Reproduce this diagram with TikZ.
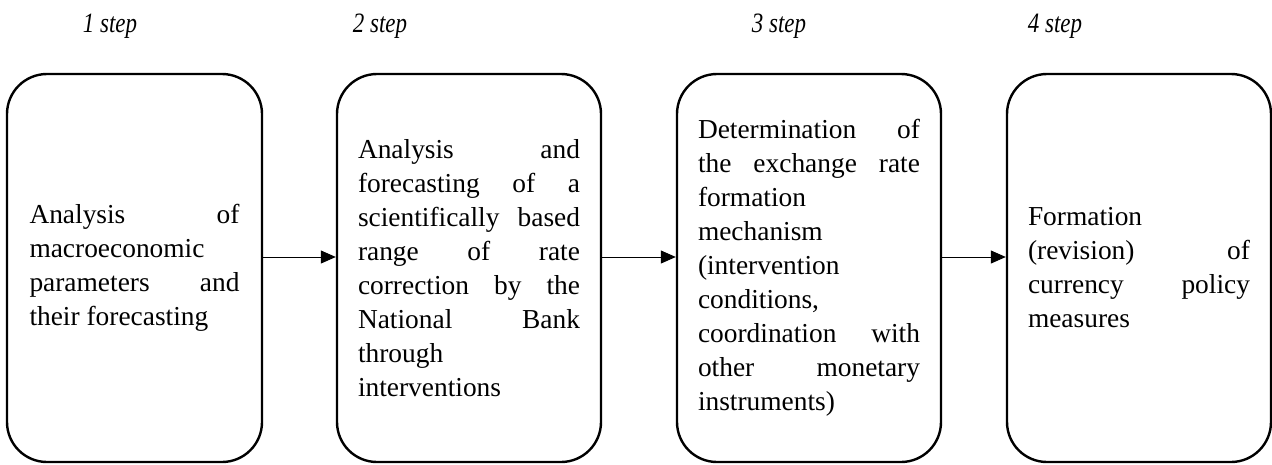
\documentclass[tikz,border=0pt]{standalone}
\usepackage{fontspec}
\usepackage{graphicx}
\setmainfont{Liberation Serif}
\usetikzlibrary{arrows.meta}
\setlength\parindent{0pt}
\tolerance=10000
\hbadness=10000
\begin{document}
\begin{tikzpicture}[x=1pt,y=-1pt,
  stepbox/.style={draw, line width=2.4pt, rounded corners=40pt,
    minimum height=388pt, inner sep=0pt, align=justify,
    font=\fontsize{27.4pt}{34pt}\selectfont},
  steplabel/.style={anchor=base, inner sep=0pt,
    font=\fontsize{28pt}{32pt}\selectfont\itshape},
  arr/.style={line width=1pt, -{Triangle[length=15pt,width=13pt]}}]
\useasboundingbox (0,0) rectangle (1272,464);

\node[steplabel] (l1) at (110,32) {\scalebox{0.82}[1]{1 step}};
\node[steplabel] (l2) at (380,32) {\scalebox{0.82}[1]{2 step}};
\node[steplabel] (l3) at (779,32) {\scalebox{0.82}[1]{3 step}};
\node[steplabel] (l4) at (1055,32) {\scalebox{0.82}[1]{4 step}};

\node[stepbox, minimum width=255pt, text width=210pt] (b1) at (134.5,268)
 {Analysis of\linebreak macroeconomic\linebreak parameters and\linebreak their forecasting};
\node[stepbox, minimum width=264pt, text width=222pt] (b2) at (469,268)
 {Analysis and\linebreak forecasting of a\linebreak scientifically based\linebreak range of rate\linebreak correction by the\linebreak National Bank\linebreak through\linebreak interventions};
\node[stepbox, minimum width=264pt, text width=222pt] (b3) at (809,268)
 {Determination of\linebreak the exchange rate\linebreak formation\linebreak mechanism\linebreak (intervention\linebreak conditions,\linebreak coordination with\linebreak other monetary\linebreak instruments)};
\node[stepbox, minimum width=264pt, text width=222pt] (b4) at (1139,268)
 {Formation\linebreak (revision) of\linebreak currency policy\linebreak measures};

\draw[arr] ([yshift=11pt]b1.east) -- ([yshift=11pt]b2.west);
\draw[arr] ([yshift=11pt]b2.east) -- ([yshift=11pt]b3.west);
\draw[arr] ([yshift=11pt]b3.east) -- ([yshift=11pt]b4.west);
\end{tikzpicture}
\end{document}
